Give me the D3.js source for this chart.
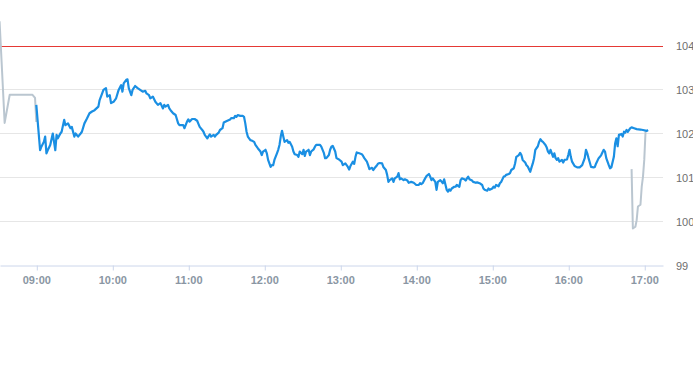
<!DOCTYPE html>
<html>
<head>
<meta charset="utf-8">
<script src="https://cdn.jsdelivr.net/npm/d3@7"></script>
<style>
  body { margin: 0; background: #fff; }
  svg { display: block; font-family: "Liberation Sans", Arial, sans-serif; }
</style>
</head>
<body>
<svg id="chart" width="693" height="365"></svg>
<script>
// regular session (blue)
const sessionTimes = [
  '09:00','09:03','09:04','09:06','09:07','09:08','09:09','09:11','09:13','09:14','09:15','09:16','09:17','09:19','09:20',
  '09:22','09:23','09:25','09:27','09:28','09:30','09:31','09:33','09:35','09:36','09:38','09:40','09:42','09:44','09:46',
  '09:49','09:50','09:52','09:53','09:55','09:56','09:58','09:59','10:01','10:03','10:05','10:07','10:08','10:09','10:11',
  '10:12','10:13','10:15','10:16','10:18','10:20','10:22','10:24','10:26','10:27','10:29','10:30','10:32','10:34','10:36',
  '10:38','10:40','10:41','10:42','10:44','10:45','10:46','10:48','10:50','10:52','10:53','10:56','10:57','10:59','11:00',
  '11:01','11:03','11:05','11:07','11:08','11:09','11:11','11:12','11:13','11:15','11:16','11:17','11:18','11:20','11:21',
  '11:22','11:24','11:25','11:27','11:28','11:30','11:33','11:34','11:36','11:37','11:38','11:39','11:41','11:43','11:44',
  '11:45','11:46','11:47','11:49','11:50','11:52','11:53','11:55','11:57','11:58','11:59','12:01','12:02','12:03','12:05',
  '12:06','12:07','12:08','12:10','12:11','12:12','12:13','12:14','12:15','12:16','12:18','12:19','12:20','12:22','12:23',
  '12:24','12:26','12:27','12:28','12:30','12:31','12:32','12:33','12:35','12:36','12:37','12:39','12:40','12:41','12:44',
  '12:45','12:47','12:48','12:49','12:51','12:52','12:53','12:54','12:56','12:57','12:59','13:01','13:02','13:04','13:06',
  '13:07','13:08','13:10','13:11','13:12','13:13','13:15','13:17','13:18','13:19','13:21','13:22','13:23','13:25','13:26',
  '13:27','13:29','13:30','13:31','13:33','13:34','13:36','13:37','13:38','13:39','13:41','13:42','13:43','13:45','13:46',
  '13:47','13:48','13:50','13:51','13:53','13:54','13:56','13:58','14:00','14:02','14:03','14:04','14:05','14:07','14:08',
  '14:10','14:11','14:12','14:13','14:15','14:16','14:17','14:19','14:21','14:22','14:24','14:25','14:26','14:27','14:28',
  '14:30','14:31','14:32','14:34','14:35','14:36','14:38','14:39','14:40','14:41','14:42','14:44','14:45','14:47','14:48',
  '14:50','14:52','14:53','14:54','14:56','14:57','14:58','15:00','15:01','15:02','15:03','15:05','15:06','15:07','15:09',
  '15:10','15:11','15:13','15:14','15:15','15:17','15:18','15:19','15:21','15:22','15:23','15:24','15:26','15:27','15:28',
  '15:30','15:31','15:32','15:33','15:34','15:36','15:37','15:38','15:39','15:40','15:42','15:43','15:44','15:45','15:46',
  '15:47','15:48','15:49','15:50','15:51','15:52','15:53','15:55','15:56','15:57','15:59','16:00','16:01','16:02','16:03',
  '16:05','16:07','16:09','16:11','16:13','16:14','16:15','16:16','16:17','16:18','16:20','16:21','16:22','16:24','16:25',
  '16:26','16:28','16:29','16:30','16:32','16:33','16:34','16:36','16:37','16:38','16:39','16:40','16:42','16:43','16:44',
  '16:45','16:46','16:47','16:49','16:50','16:52','16:54','16:57','16:59','17:02','17:03'
];
const sessionPrices = [
  102.65,101.62,101.70,101.81,101.93,101.55,101.62,101.74,102.00,101.81,101.62,101.97,101.89,102.00,102.04,
  102.31,102.19,102.23,102.12,102.15,101.93,102.00,101.93,102.00,102.04,102.23,102.34,102.46,102.50,102.53,
  102.61,102.76,102.91,102.99,103.03,102.84,102.87,102.69,102.72,102.80,102.99,103.10,102.95,103.14,103.22,
  103.23,103.03,102.87,102.99,103.08,103.03,102.99,102.95,102.97,102.91,102.87,102.80,102.84,102.72,102.65,
  102.69,102.57,102.65,102.61,102.65,102.57,102.53,102.46,102.42,102.23,102.19,102.19,102.12,102.27,102.32,
  102.27,102.33,102.33,102.29,102.22,102.15,102.08,102.04,101.97,101.89,101.94,101.98,101.93,101.97,101.93,
  101.97,102.02,102.08,102.12,102.25,102.28,102.32,102.35,102.35,102.40,102.38,102.42,102.40,102.40,102.38,
  102.23,102.04,101.93,101.85,101.84,101.81,101.74,101.66,101.59,101.51,101.59,101.63,101.55,101.40,101.24,
  101.28,101.28,101.40,101.55,101.63,101.74,101.93,102.06,101.93,101.81,101.85,101.79,101.81,101.70,101.59,
  101.53,101.51,101.47,101.59,101.53,101.63,101.49,101.59,101.63,101.51,101.59,101.64,101.70,101.74,101.74,
  101.70,101.56,101.44,101.44,101.51,101.63,101.70,101.72,101.59,101.44,101.41,101.36,101.28,101.32,101.24,
  101.18,101.26,101.36,101.31,101.47,101.57,101.55,101.53,101.49,101.44,101.36,101.28,101.19,101.22,101.17,
  101.21,101.28,101.32,101.33,101.32,101.24,101.17,101.06,100.90,100.94,100.98,100.90,100.98,101.02,101.10,
  100.96,100.98,100.94,100.96,100.93,100.88,100.90,100.88,100.83,100.83,100.87,100.85,100.87,100.98,101.03,
  101.08,101.02,100.94,100.98,100.90,100.72,100.90,100.94,100.87,100.96,100.72,100.68,100.73,100.70,100.75,
  100.79,100.79,100.83,100.79,100.94,100.98,100.96,100.93,100.98,101.02,100.96,100.93,100.90,100.88,100.89,
  100.87,100.83,100.75,100.72,100.70,100.75,100.72,100.75,100.79,100.77,100.83,100.80,100.87,100.90,101.02,
  101.03,101.06,101.08,101.10,101.17,101.21,101.32,101.47,101.51,101.56,101.51,101.40,101.34,101.28,101.25,
  101.13,101.23,101.32,101.44,101.63,101.71,101.81,101.87,101.83,101.81,101.74,101.68,101.59,101.55,101.63,
  101.55,101.47,101.55,101.44,101.40,101.44,101.36,101.40,101.34,101.40,101.41,101.51,101.63,101.47,101.36,
  101.26,101.23,101.23,101.28,101.44,101.63,101.55,101.44,101.34,101.24,101.23,101.24,101.32,101.44,101.47,
  101.51,101.63,101.59,101.44,101.28,101.21,101.23,101.47,101.77,101.89,101.71,101.97,101.99,101.93,102.04,
  102.02,102.08,102.04,102.12,102.14,102.12,102.10,102.09,102.08,102.06,102.08
];

// extended hours (grey)
const preTimes = ['08:31','08:35','08:39','08:57','08:59','09:00'];
const prePrices = [104.55, 102.24, 102.88, 102.88, 102.81, 102.26];
const postTimes = ['16:50','16:51','16:53','16:54','16:55','16:57','16:58','16:59','17:00','17:01','17:02'];
const postPrices = [101.19, 99.84, 99.88, 100.03, 100.34, 100.38, 100.79, 101.02, 101.40, 102.04, 102.06];

const priceTicks = [99, 100, 101, 102, 103, 104];
const hourTicks = ['09:00','10:00','11:00','12:00','13:00','14:00','15:00','16:00','17:00'];
const alertLevel = 104;
const viewStart = '08:31:20';
const viewEnd = '17:14:48';

const parseHM = d3.timeParse('%H:%M');
const parseHMS = d3.timeParse('%H:%M:%S');

const plotW = 663;
const svg = d3.select('#chart');

const x = d3.scaleTime()
  .domain([parseHMS(viewStart), parseHMS(viewEnd)])
  .range([0, plotW]);
const y = d3.scaleLinear()
  .domain([99, 105])
  .range([265.5, 1.5]);

function toPoints(times, prices) {
  return times.map((t, i) => ({ t: parseHM(t), v: prices[i] }));
}

// grid lines
svg.append('g')
  .selectAll('line')
  .data(priceTicks.filter(d => d > 99 && d !== alertLevel))
  .join('line')
  .attr('x1', 0)
  .attr('x2', plotW)
  .attr('y1', d => y(d))
  .attr('y2', d => y(d))
  .style('stroke', '#e6e6e6')
  .style('stroke-width', 1)
  .style('shape-rendering', 'crispEdges');

// alert level (plot line)
svg.append('rect')
  .attr('x', 0)
  .attr('y', Math.ceil(y(alertLevel)))
  .attr('width', plotW)
  .attr('height', 1)
  .style('fill', '#e53935');

const line = d3.line()
  .x(d => x(d.t))
  .y(d => y(d.v));

svg.append('clipPath').attr('id', 'plot-clip')
  .append('rect').attr('x', 0).attr('y', 0).attr('width', plotW).attr('height', 266);

const series = svg.append('g').attr('clip-path', 'url(#plot-clip)');

[toPoints(preTimes, prePrices), toPoints(postTimes, postPrices)].forEach(pts => {
  series.append('path')
    .datum(pts)
    .attr('d', line)
    .attr('fill', 'none')
    .attr('stroke', '#bac6d0')
    .attr('stroke-width', 2)
    .attr('stroke-linejoin', 'round');
});

series.append('path')
  .datum(toPoints(sessionTimes, sessionPrices))
  .attr('d', line)
  .attr('fill', 'none')
  .attr('stroke', '#1a8fe3')
  .attr('stroke-width', 2.2)
  .attr('stroke-linejoin', 'round');

// x axis
const xAxis = svg.append('g')
  .attr('transform', 'translate(0,265.5)')
  .call(d3.axisBottom(x)
    .tickValues(hourTicks.map(parseHM))
    .tickFormat(d3.timeFormat('%H:%M'))
    .tickSize(5)
    .tickSizeOuter(0)
    .tickPadding(6));
xAxis.select('.domain').attr('stroke', '#ccd6eb');
xAxis.selectAll('.tick line').attr('stroke', '#ccd6eb')
  .attr('transform', 'translate(0.5,0)');
xAxis.selectAll('.tick text')
  .attr('fill', '#8a96a3')
  .attr('font-size', 11)
  .attr('font-weight', 'bold')
  .attr('font-family', '"Liberation Sans", Arial, sans-serif');

// y axis on the right
const yAxis = svg.append('g')
  .attr('transform', 'translate(676,0)')
  .call(d3.axisRight(y)
    .tickValues(priceTicks)
    .tickFormat(d3.format('d'))
    .tickSize(0)
    .tickPadding(0));
yAxis.select('.domain').remove();
yAxis.selectAll('.tick text')
  .attr('fill', '#6e6e6e')
  .attr('font-size', 11)
  .attr('font-family', '"Liberation Sans", Arial, sans-serif');
</script>
</body>
</html>
